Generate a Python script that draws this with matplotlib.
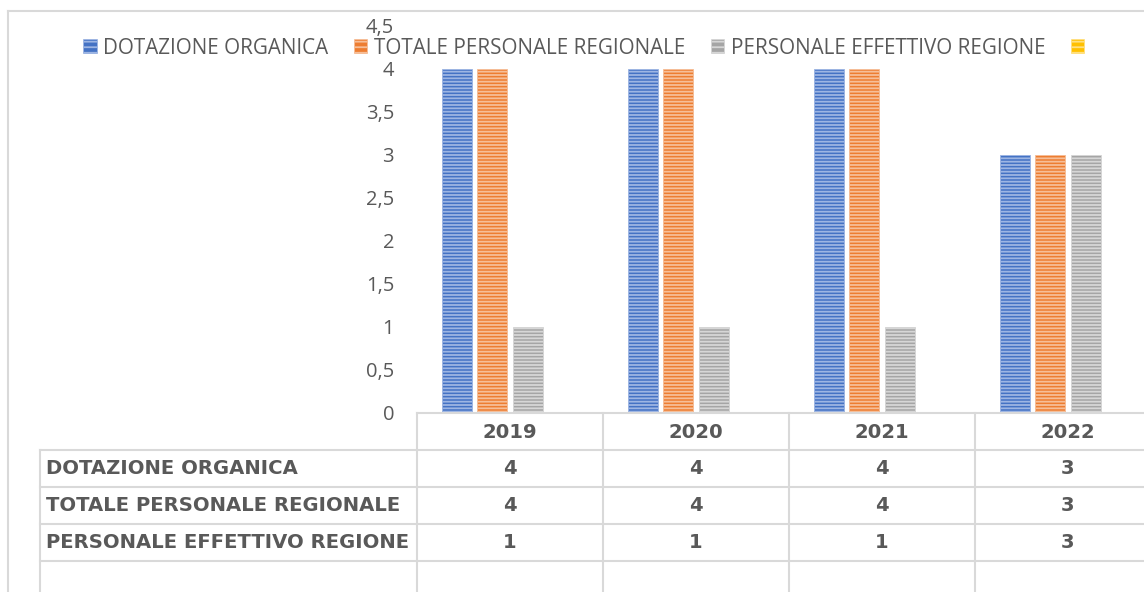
import matplotlib
matplotlib.use('Agg')
from matplotlib import pyplot as plt
from matplotlib.patches import Patch
from matplotlib.lines import Line2D
import numpy as np

years = ['2019', '2020', '2021', '2022']
series_names = ['DOTAZIONE ORGANICA', 'TOTALE PERSONALE REGIONALE', 'PERSONALE EFFETTIVO REGIONE', '']
dotazione = [4, 4, 4, 3]
totale = [4, 4, 4, 3]
effettivo = [1, 1, 1, 3]
quarta = [np.nan, np.nan, np.nan, np.nan]  # empty fourth series (yellow, no values)
yticks = [0, 0.5, 1, 1.5, 2, 2.5, 3, 3.5, 4, 4.5]

face_colors = ['#4472C4', '#ED7D31', '#A5A5A5', '#FFC000']
stripe_colors = ['#9DB5E3', '#F6BE98', '#D6D6D6', '#FFE080']
text_col = '#595959'
line_col = '#D9D9D9'

plt.rcParams['hatch.linewidth'] = 1.3

W, H = 1144, 592
fig = plt.figure(figsize=(W / 100, H / 100), dpi=100)

def fx(px):
    return px / W

def fy(py):
    return 1 - py / H

# plot area: category 0 starts at x=417, each category 186 px wide
ax = fig.add_axes([fx(417), fy(413), fx(186 * 4), fy(26) - fy(413)])
x = np.arange(len(years))
bw = 0.16
step = 0.191
values = [dotazione, totale, effettivo, quarta]
for i, vals in enumerate(values):
    ax.bar(x + (i - 1.5) * step, vals, width=bw, color=face_colors[i],
           edgecolor=stripe_colors[i], linewidth=0.6, hatch='-----')
ax.set_xlim(-0.5, len(years) - 0.5)
ax.set_ylim(0, 4.5)
ax.set_yticks(yticks)
ax.set_yticklabels([('%g' % t).replace('.', ',') for t in yticks],
                   fontsize=14.5, color=text_col, family='Open Sans')
ax.tick_params(axis='y', length=0, pad=16.5)
ax.set_xticks([])
for s in ['left', 'right', 'top']:
    ax.spines[s].set_visible(False)
ax.spines['bottom'].set_color(line_col)
ax.spines['bottom'].set_linewidth(1.5)

# legend, the fourth entry has no label
leg_handles = [Patch(facecolor=face_colors[i], edgecolor=stripe_colors[i], hatch='---', linewidth=0.5)
               for i in range(4)]
fig.legend(leg_handles, series_names, loc='center', bbox_to_anchor=(fx(587), fy(48)),
           ncol=4, frameon=False, handlelength=0.65, handleheight=0.65,
           handletextpad=0.3, columnspacing=1.25, borderpad=0, borderaxespad=0,
           prop={'family': 'Open Sans', 'size': 14.9}, labelcolor=text_col)

# outer frame
fig.add_artist(Line2D([fx(8), fx(8)], [fy(11), 0], color=line_col, lw=1.5))
fig.add_artist(Line2D([fx(8), 1], [fy(11), fy(11)], color=line_col, lw=1.5))

# data table under the plot
col_edges = [417 + 186 * i for i in range(len(years) + 1)]
row_edges = [413, 450, 487, 524, 561, 600]
left_x = 40
for yp in row_edges[1:-1]:
    fig.add_artist(Line2D([fx(left_x), 1], [fy(yp), fy(yp)], color=line_col, lw=1.5))
fig.add_artist(Line2D([fx(left_x), fx(left_x)], [fy(450), 0], color=line_col, lw=1.5))
for xp in col_edges:
    fig.add_artist(Line2D([fx(xp), fx(xp)], [fy(413), 0], color=line_col, lw=1.5))

tkw = dict(fontsize=14.1, fontweight='bold', color=text_col, family='DejaVu Sans', va='center')
for j, yr in enumerate(years):
    fig.text(fx(col_edges[j] + 93), fy(433), yr, ha='center', **tkw)
for r in range(3):
    yc = (row_edges[r + 1] + row_edges[r + 2]) / 2
    fig.text(fx(46), fy(yc), series_names[r], ha='left', **tkw)
    for j, v in enumerate(values[r]):
        fig.text(fx(col_edges[j] + 93), fy(yc), str(v), ha='center', **tkw)

fig.savefig('out.png', dpi=100)
